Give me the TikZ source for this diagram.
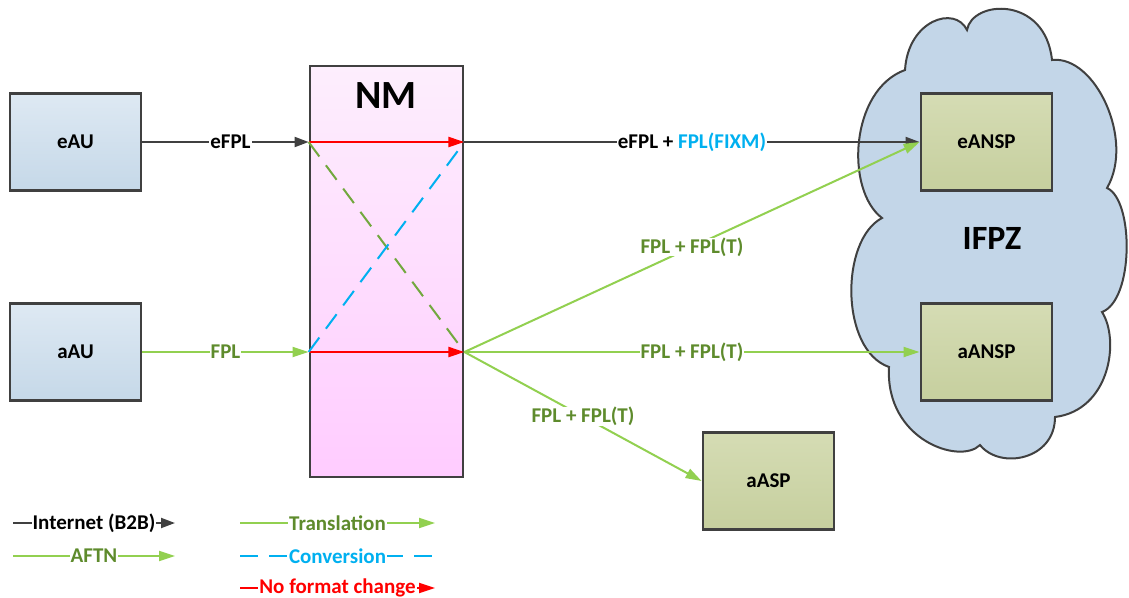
\documentclass[tikz,border=0pt]{standalone}
\usepackage{fontspec}
\setmainfont{Carlito}
\usetikzlibrary{arrows.meta,calc}
\definecolor{boxline}{HTML}{404040}
\definecolor{aublue1}{HTML}{DEE9F3}
\definecolor{aublue2}{HTML}{C5D8E8}
\definecolor{nmpink1}{HTML}{FDEEFD}
\definecolor{nmpink2}{HTML}{FFCCFF}
\definecolor{olive1}{HTML}{D5DCB4}
\definecolor{olive2}{HTML}{C6CF9E}
\definecolor{cloudfill}{HTML}{C3D6E8}
\definecolor{aftn}{HTML}{92D050}
\definecolor{trtext}{HTML}{5E8B2C}
\definecolor{trdash}{HTML}{72A83E}
\definecolor{conv}{HTML}{00B0F0}
\definecolor{b2b}{HTML}{404040}

\begin{document}
\begin{tikzpicture}[x=1pt,y=-1pt,
  font=\fontsize{21}{25}\selectfont\bfseries,
  unitbox/.style={draw=boxline, line width=2.8pt, minimum width=131pt,
    minimum height=97pt, inner sep=0pt},
  aubox/.style={unitbox, top color=aublue1, bottom color=aublue2},
  ansp/.style={unitbox, top color=olive1, bottom color=olive2},
  nmbox/.style={draw=boxline, line width=2.8pt, minimum width=153pt,
    minimum height=411pt, inner sep=0pt, top color=nmpink1, bottom color=nmpink2},
  b2bline/.style={draw=b2b, line width=2pt, -{Triangle[length=14pt,width=10pt]}},
  aftnline/.style={draw=aftn, line width=2pt, -{Triangle[length=16pt,width=10pt]}},
  nochange/.style={draw=red, line width=2pt, -{Triangle[length=16pt,width=10pt]}},
  convline/.style={draw=conv, line width=2pt, dash pattern=on 18pt off 11pt},
  trdashline/.style={draw=trdash, line width=2pt, dash pattern=on 18pt off 11pt},
  lbl/.style={fill=white, inner xsep=1pt, inner ysep=0pt},
  bigtext/.style={font=\fontsize{40}{46}\selectfont\bfseries}
]
\useasboundingbox (0,0) rectangle (1129,597);

% network manager box
\node[nmbox] (NM) at (386.5,271.5) {};
\node[bigtext] (NMlabel) at (386,96) {NM};

% aircraft operators
\node[aubox] (eAU) at (75.5,142) {eAU};
\node[aubox] (aAU) at (75.5,352) {aAU};

% IFPZ cloud
\path[draw=boxline, line width=2pt, fill=cloudfill]
  (905,70) .. controls (908,20) and (955,5) .. (967,30)
  .. controls (972,0) and (1045,-5) .. (1052,60)
  .. controls (1095,55) and (1135,140) .. (1107,188)
  .. controls (1134,200) and (1134,300) .. (1102,312)
  .. controls (1120,340) and (1110,410) .. (1055,417)
  .. controls (1055,460) and (1000,470) .. (980,445)
  .. controls (960,465) and (885,440) .. (889,367)
  .. controls (840,350) and (840,240) .. (882,218)
  .. controls (845,190) and (850,90) .. cycle;
\node[font=\fontsize{34}{40}\selectfont\bfseries] (IFPZ) at (992,238) {IFPZ};

% service providers
\node[ansp] (eANSP) at (986.5,142) {eANSP};
\node[ansp] (aANSP) at (986.5,352) {aANSP};
\node[ansp] (aASP) at (768.5,481) {aASP};

% entry and exit points on the NM box
\coordinate (inE) at (NM.west |- eAU.east);
\coordinate (outE) at (NM.east |- eAU.east);
\coordinate (inA) at (NM.west |- aAU.east);
\coordinate (outA) at (NM.east |- aAU.east);

% flows into NM
\draw[b2bline] (eAU) -- node[lbl,pos=0.53]{eFPL} (inE);
\draw[aftnline] (aAU) -- node[lbl,text=trtext]{FPL} (inA);

% processing inside NM
\draw[nochange] (inE) -- (outE);
\draw[nochange] (inA) -- (outA);
\draw[trdashline] (inE) -- (outA);
\draw[convline] (inA) -- (outE);

% distribution
\draw[b2bline] (outE) -- node[lbl]{eFPL + \textcolor{conv}{FPL(FIXM)}} (eANSP);
\draw[aftnline] (outA) -- node[lbl,text=trtext]{FPL + FPL(T)} (eANSP.west);
\draw[aftnline] (outA) -- node[lbl,text=trtext]{FPL + FPL(T)} (aANSP);
\draw[aftnline] (outA) -- node[lbl,text=trtext]{FPL + FPL(T)} (aASP.west);

% legend
\coordinate (k1a) at (13,523);  \coordinate (k1b) at (175,523);
\coordinate (k2a) at (13,556);  \coordinate (k2b) at (175,556);
\coordinate (k3a) at (240,523); \coordinate (k3b) at (435,523);
\coordinate (k4a) at (240,556); \coordinate (k4b) at (435,556);
\coordinate (k5a) at (240,588); \coordinate (k5b) at (435,588);
\draw[b2bline] (k1a) -- node[lbl]{Internet (B2B)} (k1b);
\draw[aftnline] (k2a) -- node[lbl,text=trtext]{AFTN} (k2b);
\draw[aftnline] (k3a) -- node[lbl,text=trtext]{Translation} (k3b);
\draw[convline] (k4a) -- node[lbl,text=conv]{Conversion} (k4b);
\draw[nochange] (k5a) -- node[lbl,text=red]{No format change} (k5b);
\end{tikzpicture}
\end{document}
